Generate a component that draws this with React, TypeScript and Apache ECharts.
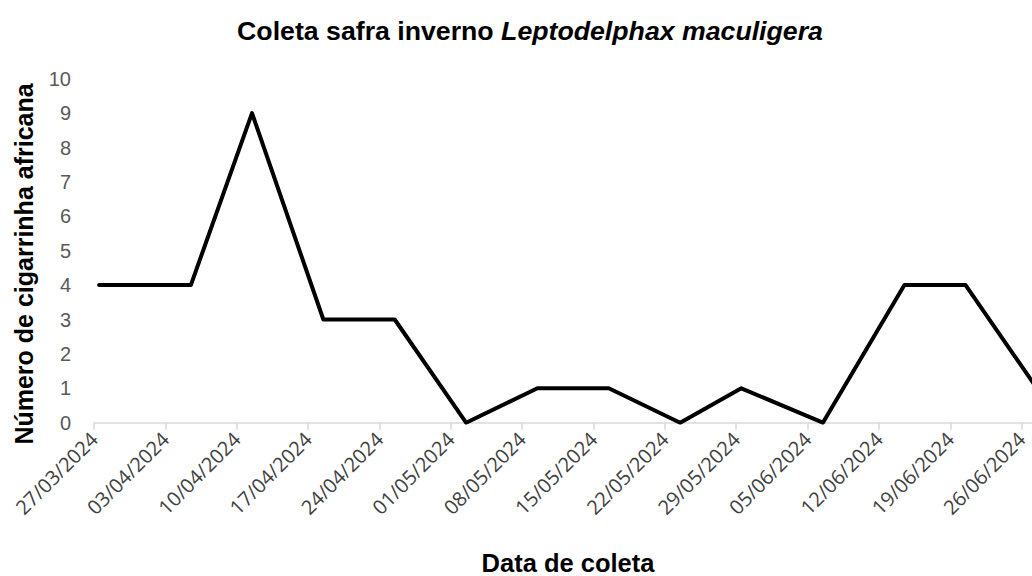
import React, { useEffect, useRef } from 'react';
import * as echarts from 'echarts';

// ---- data ----
const collectionDates = [
  '27/03/2024', '05/04/2024', '11/04/2024', '18/04/2024', '25/04/2024',
  '02/05/2024', '09/05/2024', '16/05/2024', '23/05/2024', '29/05/2024',
  '06/06/2024', '14/06/2024', '20/06/2024', '27/06/2024',
];
const insectCounts = [4, 4, 9, 3, 3, 0, 1, 1, 0, 1, 0, 4, 4, 1];
const xTickLabels = [
  '27/03/2024', '03/04/2024', '10/04/2024', '17/04/2024', '24/04/2024',
  '01/05/2024', '08/05/2024', '15/05/2024', '22/05/2024', '29/05/2024',
  '05/06/2024', '12/06/2024', '19/06/2024', '26/06/2024',
];
const yMin = 0;
const yMax = 10;
const yStep = 1;
const titleMain = 'Coleta safra inverno ';
const titleSpecies = 'Leptodelphax maculigera';
const xAxisTitle = 'Data de coleta';
const yAxisTitle = 'Número de cigarrinha africana';

const dayNum = (s: string) => {
  const [d, m, y] = s.split('/').map(Number);
  return Math.round(Date.UTC(y, m - 1, d) / 86400000);
};
const origin = dayNum(xTickLabels[0]);
// date axis, points placed in the middle of their day slot
const seriesData = collectionDates.map((d, i) => [dayNum(d) - origin + 0.5, insectCounts[i]]);
const tickValues = xTickLabels.map((d) => dayNum(d) - origin);
const xMax = dayNum(collectionDates[collectionDates.length - 1]) - origin + 1;

const PX_PER_DAY = 10.194;

export default function App() {
  const ref = useRef<HTMLDivElement>(null);
  useEffect(() => {
    if (!ref.current) return;
    const chart = echarts.init(ref.current, undefined, { renderer: 'svg' });
    const labelFor = (v: number) => {
      const i = tickValues.findIndex((t) => Math.abs(t - v) < 1e-6);
      return i >= 0 ? xTickLabels[i] : '';
    };
    chart.setOption({
      animation: false,
      backgroundColor: '#ffffff',
      grid: {
        left: 94,
        top: 78.7,
        bottom: 153.3,
        width: xMax * PX_PER_DAY,
        containLabel: false,
      },
      xAxis: {
        type: 'value',
        min: 0,
        max: xMax,
        splitLine: { show: false },
        axisLine: { show: true, lineStyle: { color: '#d9d9d9', width: 1.5 } },
        axisTick: {
          show: true,
          customValues: tickValues,
          length: 7,
          lineStyle: { color: '#d9d9d9', width: 1.5 },
        },
        axisLabel: {
          customValues: tickValues,
          rotate: 45,
          margin: 13,
          fontFamily: 'Open Sans',
          fontSize: 20,
          color: '#404040',
          formatter: (v: number) => labelFor(v),
        },
      },
      yAxis: {
        type: 'value',
        min: yMin,
        max: yMax,
        interval: yStep,
        splitLine: { show: false },
        axisLine: { show: false },
        axisTick: { show: false },
        axisLabel: {
          margin: 23,
          fontFamily: 'Liberation Sans',
          fontSize: 20,
          color: '#595959',
        },
      },
      graphic: [
        {
          type: 'text',
          x: 530,
          y: 31,
          style: {
            text: `{a|${titleMain}}{b|${titleSpecies}}`,
            textAlign: 'center',
            textVerticalAlign: 'middle',
            rich: {
              a: { fontFamily: 'Liberation Sans', fontWeight: 'bold', fontSize: 26.7, fill: '#000000' },
              b: { fontFamily: 'Liberation Sans', fontWeight: 'bold', fontStyle: 'italic', fontSize: 26.7, fill: '#000000' },
            },
          },
        },
        {
          type: 'text',
          x: 568,
          y: 563,
          style: {
            text: xAxisTitle,
            textAlign: 'center',
            textVerticalAlign: 'middle',
            fontFamily: 'Liberation Sans',
            fontWeight: 'bold',
            fontSize: 25.5,
            fill: '#000000',
          },
        },
        {
          type: 'text',
          x: 24,
          y: 264,
          rotation: Math.PI / 2,
          style: {
            text: yAxisTitle,
            textAlign: 'center',
            textVerticalAlign: 'middle',
            fontFamily: 'Liberation Sans',
            fontWeight: 'bold',
            fontSize: 25,
            fill: '#000000',
          },
        },
      ],
      series: [
        {
          type: 'line',
          data: seriesData,
          symbol: 'none',
          lineStyle: { color: '#000000', width: 4, cap: 'round', join: 'round' },
        },
      ],
    });
    return () => chart.dispose();
  }, []);
  return (
    <div
      style={{
        position: 'fixed',
        left: 0,
        top: 0,
        width: 1032,
        height: 576,
        overflow: 'hidden',
        background: '#ffffff',
      }}
    >
      <div ref={ref} style={{ width: 1060, height: 576 }} />
    </div>
  );
}
